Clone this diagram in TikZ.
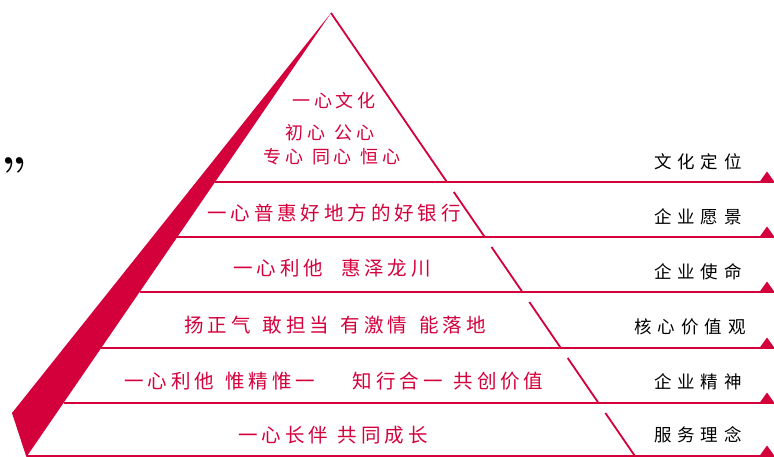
\documentclass[tikz,border=0pt]{standalone}
\usepackage{fontspec}
\newfontfamily\redcjk[LetterSpace=20]{Noto Sans CJK SC}
\newfontfamily\blkcjk[LetterSpace=34]{Noto Sans CJK SC}
\definecolor{pyred}{RGB}{212,0,60}
\tikzset{
  redtxt/.style={text=pyred, inner sep=0pt, font=\redcjk\fontsize{19.5}{22}\selectfont},
  topred/.style={text=pyred, inner sep=0pt, font=\redcjk\fontsize{18}{21}\selectfont},
  blktxt/.style={text=black, inner sep=0pt, font=\blkcjk\fontsize{17.5}{20}\selectfont},
  hline/.style={draw=pyred, line width=2.6pt},
  slant/.style={draw=pyred, line width=1.8pt},
  marker/.style={fill=pyred, draw=none},
}
\newcommand{\gp}[1]{\hspace*{#1pt}}
\begin{document}
\begin{tikzpicture}[x=1pt,y=-1pt]
\useasboundingbox (0,0) rectangle (774,457);
% key points
\coordinate (apex) at (331,13);
\coordinate (outer) at (12,413);
\coordinate (bl) at (26.4,457);
% red wedge on the left
\fill[pyred] (apex) -- (outer) -- (bl) -- cycle;
% left ends of horizontal lines
\coordinate (L1) at (215.1,182);
\coordinate (L2) at (177.3,237);
\coordinate (L3) at (139.6,292);
\coordinate (L4) at (101.2,348);
\coordinate (L5) at (63.5,403);
\coordinate (L6) at (27.1,456);
% right ends
\foreach \i/\y in {1/182,2/237,3/292,4/348,5/403,6/456}{
  \coordinate (R\i) at (774,\y);
}
\foreach \i in {1,...,6}{
  \draw[hline] (L\i) -- (R\i);
}
% markers
\foreach \y in {182,237,292,348,403,456}{
  \fill[marker] (759.5,\y) -- (767,\y-10.5) -- (774.5,\y) -- cycle;
}
% right slanted edges
\coordinate (S0) at (446.9,182);
\coordinate (T1) at (453.8,192);  \coordinate (S1) at (484.7,237);
\coordinate (T2) at (491.5,247);  \coordinate (S2) at (522.4,292);
\coordinate (T3) at (529.3,302);  \coordinate (S3) at (560.8,348);
\coordinate (T4) at (567.7,358);  \coordinate (S4) at (598.5,403);
\coordinate (T5) at (605.4,413);  \coordinate (S5) at (634.9,456);
\draw[slant] (apex) -- (S0);
\foreach \i in {1,...,5}{ \draw[slant] (T\i) -- (S\i); }
% quote mark
\node[font=\bfseries\fontsize{46}{46}\selectfont, inner sep=0pt] (q) at (14,174) {”};
% pyramid texts
\node[topred] (t1a) at (334,101) {一心文化};
\node[topred] (t1b) at (330,133) {初心\gp{9}公心};
\node[topred] (t1c) at (332,157) {专心\gp{9}同心\gp{9}恒心};
\node[redtxt] (t2) at (334,213) {一心普惠好地方的好银行};
\node[redtxt] (t3) at (332,268) {一心利他\gp{18}惠泽龙川};
\node[redtxt] (t4) at (335,325) {扬正气\gp{12}敢担当\gp{12}有激情\gp{12}能落地};
\node[redtxt] (t5) at (334,381) {一心利他\gp{11}惟精惟一\gp{38}知行合一\gp{11}共创价值};
\node[redtxt] (t6) at (333,435) {一心长伴\gp{10}共同成长};
% right labels
\node[blktxt] (r1) at (698,162) {文化定位};
\node[blktxt] (r2) at (698,217) {企业愿景};
\node[blktxt] (r3) at (698,272) {企业使命};
\node[blktxt] (r4) at (690,327) {核心价值观};
\node[blktxt] (r5) at (698,382) {企业精神};
\node[blktxt] (r6) at (698,435) {服务理念};
\end{tikzpicture}
\end{document}
